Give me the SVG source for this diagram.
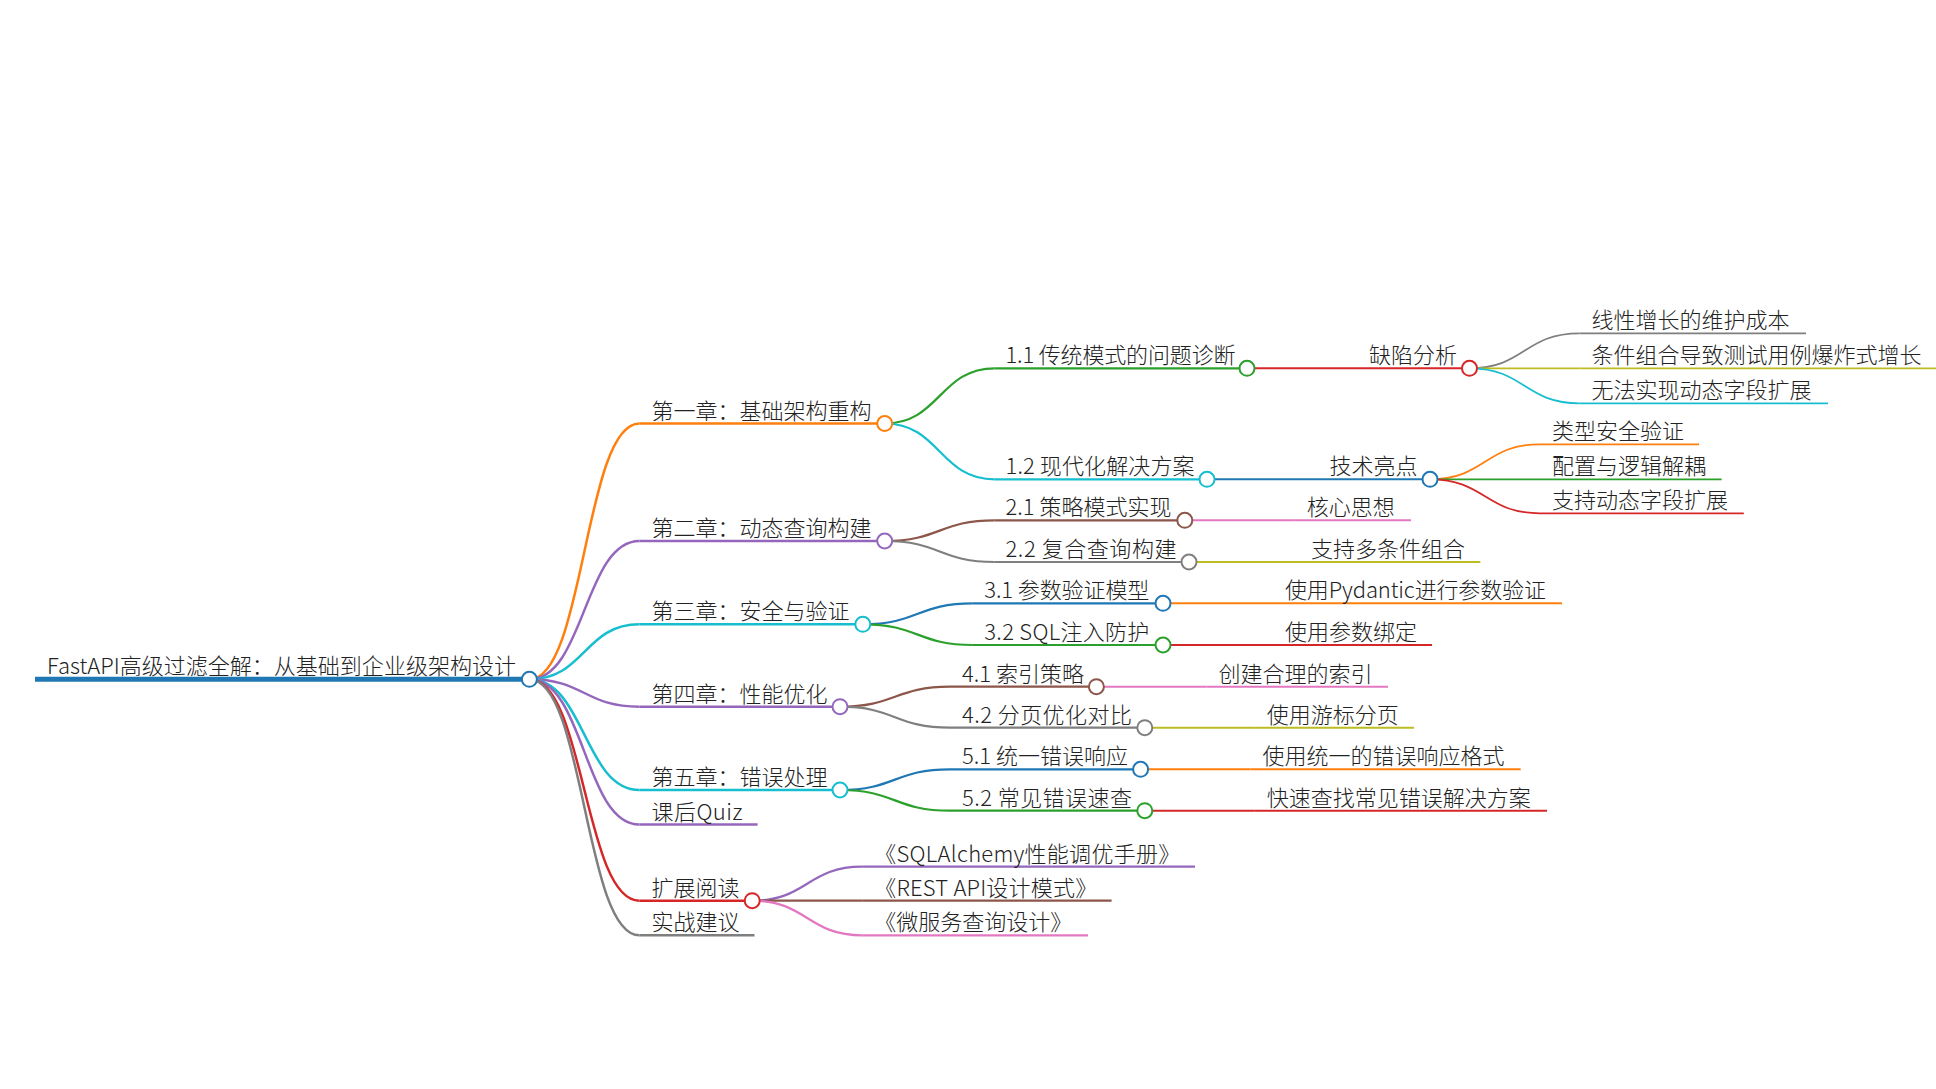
<svg xmlns="http://www.w3.org/2000/svg" width="1936" height="1089" viewBox="0 0 1936 1089">
<style>
text{font-family:"Noto Sans CJK SC","Noto Sans",sans-serif;font-size:22px;font-weight:300;fill:#222}
.ln{fill:none;stroke-linecap:butt}
.d0{stroke-width:5}
.d1{stroke-width:2.5}
.d2{stroke-width:2.2}
.d3{stroke-width:1.9}
.d4{stroke-width:1.7}
circle{fill:#fff;stroke-width:2}
.blue{stroke:#1f77b4}.orange{stroke:#ff7f0e}.green{stroke:#2ca02c}.red{stroke:#d62728}.purple{stroke:#9467bd}
.brown{stroke:#8c564b}.pink{stroke:#e377c2}.grey{stroke:#7f7f7f}.olive{stroke:#bcbd22}.cyan{stroke:#17becf}
</style>
<rect width="1936" height="1089" fill="#fff"/>
<g id="connectors">
<path class="ln d1 orange" d="M529.4 679.3C584.4 679.3 584.4 423.5 639.4 423.5"/>
<path class="ln d1 purple" d="M529.4 679.3C584.4 679.3 584.4 541 639.4 541"/>
<path class="ln d1 cyan" d="M529.4 679.3C584.4 679.3 584.4 624.3 639.4 624.3"/>
<path class="ln d1 purple" d="M529.4 679.3C584.4 679.3 584.4 706.7 639.4 706.7"/>
<path class="ln d1 cyan" d="M529.4 679.3C584.4 679.3 584.4 790 639.4 790"/>
<path class="ln d1 purple" d="M529.4 679.3C584.4 679.3 584.4 824.5 639.4 824.5"/>
<path class="ln d1 red" d="M529.4 679.3C584.4 679.3 584.4 900.7 639.4 900.7"/>
<path class="ln d1 grey" d="M529.4 679.3C584.4 679.3 584.4 935.3 639.4 935.3"/>
<path class="ln d2 green" d="M884.7 423.5C939.7 423.5 939.7 368.3 994.7 368.3"/>
<path class="ln d2 cyan" d="M884.7 423.5C939.7 423.5 939.7 479.3 994.7 479.3"/>
<path class="ln d3 red" d="M1247 368.3L1357 368.3"/>
<path class="ln d3 blue" d="M1207 479.3L1317 479.3"/>
<path class="ln d4 grey" d="M1469.5 368.3C1524.5 368.3 1524.5 333.3 1579.5 333.3"/>
<path class="ln d4 olive" d="M1469.5 368.3L1579.5 368.3"/>
<path class="ln d4 cyan" d="M1469.5 368.3C1524.5 368.3 1524.5 403.3 1579.5 403.3"/>
<path class="ln d4 orange" d="M1430 479.3C1485 479.3 1485 444.3 1540 444.3"/>
<path class="ln d4 green" d="M1430 479.3L1540 479.3"/>
<path class="ln d4 red" d="M1430 479.3C1485 479.3 1485 513.3 1540 513.3"/>
<path class="ln d2 brown" d="M884.7 541C939.7 541 939.7 520.3 994.7 520.3"/>
<path class="ln d2 grey" d="M884.7 541C939.7 541 939.7 562 994.7 562"/>
<path class="ln d3 pink" d="M1184.8 520.3L1294.8 520.3"/>
<path class="ln d3 olive" d="M1189 562L1299 562"/>
<path class="ln d2 blue" d="M862.8 624.3C917.8 624.3 917.8 603.3 972.8 603.3"/>
<path class="ln d2 green" d="M862.8 624.3C917.8 624.3 917.8 645 972.8 645"/>
<path class="ln d3 orange" d="M1163 603.3L1273 603.3"/>
<path class="ln d3 red" d="M1163 645L1273 645"/>
<path class="ln d2 brown" d="M840 706.7C895 706.7 895 686.7 950 686.7"/>
<path class="ln d2 grey" d="M840 706.7C895 706.7 895 727.7 950 727.7"/>
<path class="ln d3 pink" d="M1096.4 686.7L1206.4 686.7"/>
<path class="ln d3 olive" d="M1144.8 727.7L1254.8 727.7"/>
<path class="ln d2 blue" d="M840 790C895 790 895 769.3 950 769.3"/>
<path class="ln d2 green" d="M840 790C895 790 895 810.7 950 810.7"/>
<path class="ln d3 orange" d="M1140.6 769.3L1250.6 769.3"/>
<path class="ln d3 red" d="M1144.8 810.7L1254.8 810.7"/>
<path class="ln d2 purple" d="M752.2 900.7C807.2 900.7 807.2 866.7 862.2 866.7"/>
<path class="ln d2 brown" d="M752.2 900.7L862.2 900.7"/>
<path class="ln d2 pink" d="M752.2 900.7C807.2 900.7 807.2 935.3 862.2 935.3"/>
</g>

<g id="root">
<path class="ln d0 blue" d="M35 679.3H529.4"/>
<text x="47" y="674" textLength="469">FastAPI高级过滤全解：从基础到企业级架构设计</text>
<circle class="blue" cx="529.4" cy="679.3" r="7.5"/>
</g>

<g id="ch1">
<path class="ln d1 orange" d="M639.4 423.5H884.7"/>
<text x="651.4" y="418.5">第一章：基础架构重构</text>
<circle class="orange" cx="884.7" cy="423.5" r="7.5"/>
</g>
<g id="n1-1">
<path class="ln d2 green" d="M994.7 368.3H1247"/>
<text x="1005.5" y="363.3" textLength="230">1.1 传统模式的问题诊断</text>
<circle class="green" cx="1247" cy="368.3" r="7.5"/>
</g>
<g id="n1-1-a">
<path class="ln d3 red" d="M1357 368.3H1469.5"/>
<text x="1369" y="363.3">缺陷分析</text>
<circle class="red" cx="1469.5" cy="368.3" r="7.5"/>
</g>
<g id="n1-1-a-1">
<path class="ln d4 grey" d="M1579.5 333.3H1806"/>
<text x="1591.5" y="328.3">线性增长的维护成本</text>
</g>
<g id="n1-1-a-2">
<path class="ln d4 olive" d="M1579.5 368.3H1940"/>
<text x="1591.5" y="363.3">条件组合导致测试用例爆炸式增长</text>
</g>
<g id="n1-1-a-3">
<path class="ln d4 cyan" d="M1579.5 403.3H1828"/>
<text x="1591.5" y="398.3">无法实现动态字段扩展</text>
</g>
<g id="n1-2">
<path class="ln d2 cyan" d="M994.7 479.3H1207"/>
<text x="1005.5" y="474.3" textLength="189">1.2 现代化解决方案</text>
<circle class="cyan" cx="1207" cy="479.3" r="7.5"/>
</g>
<g id="n1-2-a">
<path class="ln d3 blue" d="M1317 479.3H1430"/>
<text x="1329.5" y="474.3">技术亮点</text>
<circle class="blue" cx="1430" cy="479.3" r="7.5"/>
</g>
<g id="n1-2-a-1">
<path class="ln d4 orange" d="M1540 444.3H1699"/>
<text x="1552" y="439.3">类型安全验证</text>
</g>
<g id="n1-2-a-2">
<path class="ln d4 green" d="M1540 479.3H1721.6"/>
<text x="1552" y="474.3">配置与逻辑解耦</text>
</g>
<g id="n1-2-a-3">
<path class="ln d4 red" d="M1540 513.3H1743.8"/>
<text x="1552" y="508.3">支持动态字段扩展</text>
</g>

<g id="ch2">
<path class="ln d1 purple" d="M639.4 541H884.7"/>
<text x="651.4" y="536">第二章：动态查询构建</text>
<circle class="purple" cx="884.7" cy="541" r="7.5"/>
</g>
<g id="n2-1">
<path class="ln d2 brown" d="M994.7 520.3H1184.8"/>
<text x="1005.5" y="515.3" textLength="166">2.1 策略模式实现</text>
<circle class="brown" cx="1184.8" cy="520.3" r="7.5"/>
</g>
<g id="n2-1-a">
<path class="ln d3 pink" d="M1294.8 520.3H1411"/>
<text x="1306.8" y="515.3">核心思想</text>
</g>
<g id="n2-2">
<path class="ln d2 grey" d="M994.7 562H1189"/>
<text x="1005.5" y="557" textLength="171">2.2 复合查询构建</text>
<circle class="grey" cx="1189" cy="562" r="7.5"/>
</g>
<g id="n2-2-a">
<path class="ln d3 olive" d="M1299 562H1480.4"/>
<text x="1311" y="557">支持多条件组合</text>
</g>

<g id="ch3">
<path class="ln d1 cyan" d="M639.4 624.3H862.8"/>
<text x="651.4" y="619.3">第三章：安全与验证</text>
<circle class="cyan" cx="862.8" cy="624.3" r="7.5"/>
</g>
<g id="n3-1">
<path class="ln d2 blue" d="M972.8 603.3H1163"/>
<text x="984.3" y="598.3" textLength="165">3.1 参数验证模型</text>
<circle class="blue" cx="1163" cy="603.3" r="7.5"/>
</g>
<g id="n3-1-a">
<path class="ln d3 orange" d="M1273 603.3H1562"/>
<text x="1285" y="598.3" textLength="261">使用Pydantic进行参数验证</text>
</g>
<g id="n3-2">
<path class="ln d2 green" d="M972.8 645H1163"/>
<text x="984.3" y="640" textLength="165">3.2 SQL注入防护</text>
<circle class="green" cx="1163" cy="645" r="7.5"/>
</g>
<g id="n3-2-a">
<path class="ln d3 red" d="M1273 645H1432"/>
<text x="1285" y="640">使用参数绑定</text>
</g>

<g id="ch4">
<path class="ln d1 purple" d="M639.4 706.7H840"/>
<text x="651.4" y="701.7">第四章：性能优化</text>
<circle class="purple" cx="840" cy="706.7" r="7.5"/>
</g>
<g id="n4-1">
<path class="ln d2 brown" d="M950 686.7H1096.4"/>
<text x="962" y="681.7" textLength="122">4.1 索引策略</text>
<circle class="brown" cx="1096.4" cy="686.7" r="7.5"/>
</g>
<g id="n4-1-a">
<path class="ln d3 pink" d="M1206.4 686.7H1388"/>
<text x="1218.4" y="681.7">创建合理的索引</text>
</g>
<g id="n4-2">
<path class="ln d2 grey" d="M950 727.7H1144.8"/>
<text x="962" y="722.7" textLength="170">4.2 分页优化对比</text>
<circle class="grey" cx="1144.8" cy="727.7" r="7.5"/>
</g>
<g id="n4-2-a">
<path class="ln d3 olive" d="M1254.8 727.7H1414"/>
<text x="1266.8" y="722.7">使用游标分页</text>
</g>

<g id="ch5">
<path class="ln d1 cyan" d="M639.4 790H840"/>
<text x="651.4" y="785">第五章：错误处理</text>
<circle class="cyan" cx="840" cy="790" r="7.5"/>
</g>
<g id="n5-1">
<path class="ln d2 blue" d="M950 769.3H1140.6"/>
<text x="962" y="764.3" textLength="166">5.1 统一错误响应</text>
<circle class="blue" cx="1140.6" cy="769.3" r="7.5"/>
</g>
<g id="n5-1-a">
<path class="ln d3 orange" d="M1250.6 769.3H1520.7"/>
<text x="1262.6" y="764.3">使用统一的错误响应格式</text>
</g>
<g id="n5-2">
<path class="ln d2 green" d="M950 810.7H1144.8"/>
<text x="962" y="805.7" textLength="170">5.2 常见错误速查</text>
<circle class="green" cx="1144.8" cy="810.7" r="7.5"/>
</g>
<g id="n5-2-a">
<path class="ln d3 red" d="M1254.8 810.7H1547"/>
<text x="1266.8" y="805.7">快速查找常见错误解决方案</text>
</g>

<g id="quiz">
<path class="ln d1 purple" d="M639.4 824.5H757.6"/>
<text x="651.4" y="819.5" textLength="91">课后Quiz</text>
</g>

<g id="reading">
<path class="ln d1 red" d="M639.4 900.7H752.2"/>
<text x="651.4" y="895.7">扩展阅读</text>
<circle class="red" cx="752.2" cy="900.7" r="7.5"/>
</g>
<g id="reading-1">
<path class="ln d2 purple" d="M862.2 866.7H1195"/>
<text x="874.2" y="861.7" textLength="306">《SQLAlchemy性能调优手册》</text>
</g>
<g id="reading-2">
<path class="ln d2 brown" d="M862.2 900.7H1111.6"/>
<text x="874.2" y="895.7" textLength="223">《REST API设计模式》</text>
</g>
<g id="reading-3">
<path class="ln d2 pink" d="M862.2 935.3H1088"/>
<text x="874.2" y="930.3">《微服务查询设计》</text>
</g>

<g id="practice">
<path class="ln d1 grey" d="M639.4 935.3H754.5"/>
<text x="651.4" y="930.3">实战建议</text>
</g>
</svg>
